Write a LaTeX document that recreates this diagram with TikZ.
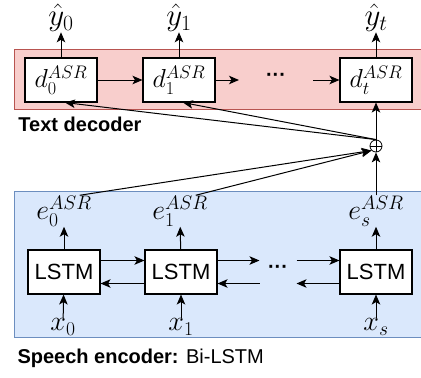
\RequirePackage{fix-cm}
\documentclass[tikz,border=0pt]{standalone}
\usepackage{fontspec}
\setsansfont{Liberation Sans}
\usetikzlibrary{arrows.meta}
\definecolor{decfill}{HTML}{F8CECC}
\definecolor{decline}{HTML}{B85450}
\definecolor{encfill}{HTML}{DAE8FC}
\definecolor{encline}{HTML}{6C8EBF}

\begin{document}
\begin{tikzpicture}[x=1pt, y=-1pt, line width=1pt,
                    >={Stealth[length=10pt,width=8.5pt,inset=2.5pt]},
                    cell/.style={rectangle,draw,fill=white,line width=1.1pt,
                                 minimum width=72pt,minimum height=44pt,inner sep=0pt},
                    dec node/.style={cell,font=\fontsize{26}{30}\selectfont},
                    lstm node/.style={cell,font=\sffamily\fontsize{22}{26}\selectfont},
                    sym/.style={inner sep=0pt,font=\fontsize{28}{32}\selectfont},
                    big sym/.style={inner sep=0pt,font=\fontsize{31}{35}\selectfont},
                    gap/.style={inner sep=0pt,font=\sffamily\bfseries\fontsize{20}{24}\selectfont},
                    caption/.style={anchor=base west,inner sep=0pt,
                                    font=\sffamily\fontsize{20}{24}\selectfont}]
  \useasboundingbox (0,0) rectangle (421,378);
  % bands
  \draw[fill=decfill,draw=decline] (14,49) rectangle (440,109);
  \draw[fill=encfill,draw=encline] (14,191) rectangle (440,337);
  \node[caption] (dectitle) at (18,131) {\bfseries Text decoder};
  \node[caption] (enctitle) at (17,363) {\textbf{Speech encoder:} Bi-LSTM};

  % text decoder
  \node[dec node] (d0) at (61,80) {$d_0^{ASR}$};
  \node[dec node] (d1) at (179,80) {$d_1^{ASR}$};
  \node[gap,minimum width=73pt] (ddots) at (276,80) {\raisebox{0.25em}{···}};
  \node[dec node] (dt) at (376,80) {$d_t^{ASR}$};
  \node[big sym] (yh0) at (61,18) {$\hat{y}_0$};
  \node[big sym] (yh1) at (179,18) {$\hat{y}_1$};
  \node[big sym] (yht) at (376,18) {$\hat{y}_t$};
  \draw[->] (d0) -- (yh0);
  \draw[->] (d1) -- (yh1);
  \draw[->] (dt) -- (yht);
  \draw[->] (d0) -- (d1);
  \draw[->] (d1) -- (ddots);
  \draw[->] (ddots) -- (dt);

  % sum
  \node[circle,draw,line width=0.8pt,minimum size=12pt,inner sep=0pt,
        path picture={\draw[line width=0.8pt]
          (path picture bounding box.north) -- (path picture bounding box.south)
          (path picture bounding box.west) -- (path picture bounding box.east);}]
        (plus) at (376,146) {};

  % speech encoder
  \node[lstm node] (l0) at (64,272) {LSTM};
  \node[lstm node] (l1) at (181,272) {LSTM};
  \node[gap,minimum width=36pt] (edots) at (278,272) {\raisebox{0.25em}{···}};
  \node[lstm node] (ls) at (376,272) {LSTM};
  \node[sym] (e0) at (64,211) {$e_0^{ASR}$};
  \node[sym] (e1) at (180,211) {$e_1^{ASR}$};
  \node[sym] (es) at (376,211) {$e_s^{ASR}$};
  \node[sym] (x0) at (63,327) {$x_0$};
  \node[sym] (x1) at (181,327) {$x_1$};
  \node[sym] (xs) at (376,327) {$x_s$};
  \draw[->] (x0) -- (l0);
  \draw[->] (x1) -- (l1);
  \draw[->] (xs) -- (ls);
  \draw[->] (l0) -- (e0);
  \draw[->] (l1) -- (e1);
  \draw[->] (ls) -- (es);
  \draw[->] ([yshift=11.5pt]l0.east) -- ([yshift=11.5pt]l1.west);
  \draw[->] ([yshift=11.5pt]l1.east) -- ([yshift=11.5pt]edots.west);
  \draw[->] ([yshift=11.5pt]edots.east) -- ([yshift=11.5pt]ls.west);
  \draw[->] ([yshift=-11.5pt]l1.west) -- ([yshift=-11.5pt]l0.east);
  \draw[->] ([yshift=-11.5pt]edots.west) -- ([yshift=-11.5pt]l1.east);
  \draw[->] ([yshift=-11.5pt]ls.west) -- ([yshift=-11.5pt]edots.east);

  % encoder states to sum, sum to decoder
  \draw[->] (e0.45) -- (plus.south west);
  \draw[->] (e1.45) -- (plus.south west);
  \draw[->] (es) -- (plus);
  \draw[->] (plus.north) -- (d0.-80);
  \draw[->] (plus.north) -- (d1.-80);
  \draw[->] (plus) -- (dt);
\end{tikzpicture}
\end{document}
